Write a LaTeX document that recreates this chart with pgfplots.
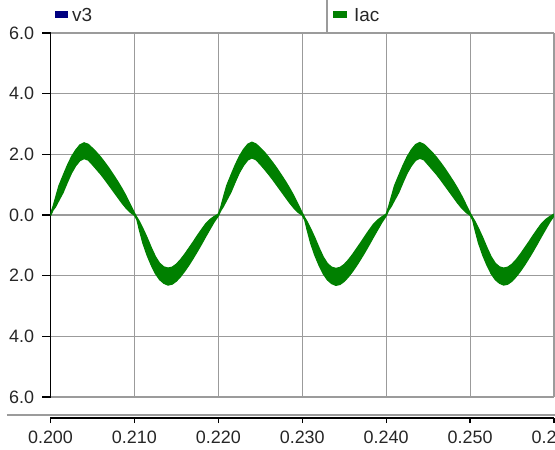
\documentclass[border=0pt]{standalone}
\usepackage{pgfplots}
\pgfplotsset{compat=1.18}
\usepgfplotslibrary{fillbetween}
\usepackage{pgfplotstable}
\usepackage{fontspec}
\setmainfont{Liberation Sans}
\definecolor{wave}{RGB}{0,128,0}
\definecolor{navyb}{RGB}{0,0,128}
\definecolor{gridc}{RGB}{155,155,155}

\pgfplotstableread{
t lo hi
0.2000 -0.03 0.03
0.2003 0.16 0.28
0.2006 0.27 0.57
0.2010 0.48 0.96
0.2015 0.74 1.30
0.2020 1.07 1.63
0.2025 1.38 1.92
0.2030 1.62 2.14
0.2035 1.79 2.31
0.2040 1.86 2.38
0.2045 1.81 2.33
0.2050 1.66 2.20
0.2055 1.50 2.06
0.2060 1.34 1.90
0.2065 1.16 1.72
0.2070 0.97 1.53
0.2075 0.78 1.32
0.2080 0.59 1.11
0.2085 0.40 0.88
0.2090 0.23 0.63
0.2095 0.09 0.35
0.2100 -0.01 0.07
0.2103 -0.16 -0.08
0.2106 -0.50 -0.22
0.2110 -0.92 -0.44
0.2115 -1.32 -0.74
0.2120 -1.65 -1.07
0.2125 -1.93 -1.37
0.2130 -2.13 -1.59
0.2135 -2.25 -1.71
0.2140 -2.31 -1.75
0.2145 -2.28 -1.72
0.2150 -2.18 -1.62
0.2155 -2.03 -1.47
0.2160 -1.85 -1.29
0.2165 -1.65 -1.09
0.2170 -1.43 -0.89
0.2175 -1.20 -0.68
0.2180 -0.96 -0.48
0.2185 -0.71 -0.29
0.2190 -0.47 -0.15
0.2195 -0.23 -0.05
0.2200 -0.03 0.03
0.2203 0.15 0.27
0.2206 0.28 0.58
0.2210 0.49 0.97
0.2215 0.75 1.31
0.2220 1.08 1.64
0.2225 1.39 1.93
0.2230 1.63 2.16
0.2235 1.81 2.33
0.2240 1.88 2.40
0.2245 1.82 2.34
0.2250 1.67 2.21
0.2255 1.51 2.07
0.2260 1.34 1.90
0.2265 1.16 1.72
0.2270 0.97 1.53
0.2275 0.78 1.32
0.2280 0.59 1.11
0.2285 0.40 0.88
0.2290 0.23 0.63
0.2295 0.09 0.35
0.2300 -0.01 0.07
0.2303 -0.17 -0.09
0.2306 -0.51 -0.23
0.2310 -0.93 -0.45
0.2315 -1.33 -0.75
0.2320 -1.66 -1.08
0.2325 -1.94 -1.38
0.2330 -2.14 -1.60
0.2335 -2.26 -1.72
0.2340 -2.32 -1.76
0.2345 -2.29 -1.73
0.2350 -2.19 -1.63
0.2355 -2.04 -1.48
0.2360 -1.86 -1.30
0.2365 -1.66 -1.10
0.2370 -1.44 -0.90
0.2375 -1.21 -0.69
0.2380 -0.97 -0.49
0.2385 -0.72 -0.30
0.2390 -0.48 -0.16
0.2395 -0.24 -0.06
0.2400 -0.03 0.03
0.2403 0.16 0.28
0.2406 0.28 0.58
0.2410 0.49 0.97
0.2415 0.74 1.30
0.2420 1.07 1.63
0.2425 1.38 1.92
0.2430 1.62 2.15
0.2435 1.80 2.32
0.2440 1.87 2.39
0.2445 1.82 2.33
0.2450 1.66 2.20
0.2455 1.50 2.06
0.2460 1.34 1.90
0.2465 1.16 1.72
0.2470 0.97 1.53
0.2475 0.78 1.32
0.2480 0.59 1.11
0.2485 0.40 0.88
0.2490 0.23 0.63
0.2495 0.09 0.35
0.2500 -0.01 0.07
0.2503 -0.16 -0.08
0.2506 -0.50 -0.22
0.2510 -0.92 -0.44
0.2515 -1.32 -0.74
0.2520 -1.65 -1.07
0.2525 -1.93 -1.37
0.2530 -2.13 -1.59
0.2535 -2.25 -1.71
0.2540 -2.31 -1.75
0.2545 -2.28 -1.72
0.2550 -2.18 -1.62
0.2555 -2.03 -1.47
0.2560 -1.85 -1.29
0.2565 -1.65 -1.09
0.2570 -1.43 -0.89
0.2575 -1.20 -0.68
0.2580 -0.96 -0.48
0.2585 -0.71 -0.29
0.2590 -0.47 -0.15
0.2595 -0.23 -0.05
0.2600 -0.03 0.03
}\wavetable

\begin{document}
\begin{tikzpicture}
\begin{axis}[
  at={(0,0)}, anchor=south west,
  scale only axis, width=503.5bp, height=364bp,
  xmin=0.2, xmax=0.26, ymin=-6, ymax=6,
  xtick={0.20,0.21,0.22,0.23,0.24,0.25,0.26},
  ytick={-6,-4,-2,0,2,4,6},
  yticklabels={6.0,4.0,2.0,0.0,2.0,4.0,6.0},
  xticklabels={},
  axis y line*=left, axis x line*=bottom,
  x axis line style={draw=none},
  y axis line style={black, line width=1.3bp},
  xtick style={draw=none},
  ytick style={black, line width=1.2bp},
  ytick align=outside,
  major tick length=8bp,
  grid=major,
  major grid style={gridc, line width=1.1bp},
  tick label style={font=\fontsize{18}{20}\selectfont, text=black!85},
  yticklabel style={xshift=-5bp},
  clip=true,
]
\addplot[name path=hi, wave, line width=1.2bp] table[x=t, y=hi] {\wavetable};
\addplot[name path=lo, wave, line width=1.2bp] table[x=t, y=lo] {\wavetable};
\addplot[wave] fill between[of=hi and lo];
\draw[gridc, line width=2bp] (rel axis cs:0,1) -- (rel axis cs:1,1);
\end{axis}
\begin{axis}[
  at={(0,-21bp)}, anchor=south west,
  scale only axis, width=503.5bp, height=10bp,
  xmin=0.2, xmax=0.26, ymin=0, ymax=1,
  axis x line*=bottom, axis y line=none,
  xtick={0.20,0.21,0.22,0.23,0.24,0.25,0.26},
  xticklabels={0.200,0.210,0.220,0.230,0.240,0.250,0.260},
  ytick=\empty,
  xtick align=outside,
  major tick length=5bp,
  x axis line style={black, line width=1.3bp},
  xtick style={black, line width=1.2bp},
  tick label style={font=\fontsize{18}{20}\selectfont, text=black!85},
  xticklabel style={yshift=-4bp},
]
\end{axis}
\draw[gridc, line width=1.2bp] (-43.5bp,-18bp) -- (505bp,-18bp);
\draw[gridc, line width=1.2bp] (276.5bp,364bp) -- (276.5bp,398bp);
\fill[navyb] (4.5bp,379bp) rectangle (17.5bp,386bp);
\node[anchor=west, inner sep=0pt, font=\fontsize{19}{21}\selectfont, text=black!85] at (21.5bp,382bp) {v3};
\fill[wave] (282.5bp,379bp) rectangle (296.5bp,386bp);
\node[anchor=west, inner sep=0pt, font=\fontsize{19}{21}\selectfont, text=black!85] at (303.5bp,382bp) {Iac};
\pgfresetboundingbox
\path[use as bounding box] (-50.5bp,-53bp) rectangle (504.5bp,397bp);
\end{tikzpicture}
\end{document}
